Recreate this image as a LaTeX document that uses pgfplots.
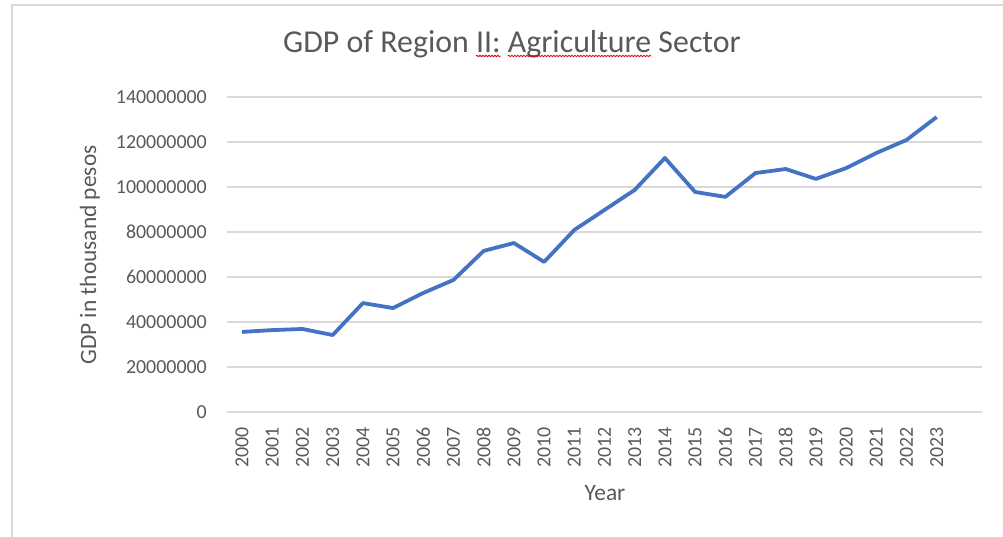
\documentclass[border=0pt]{standalone}
\usepackage{fontspec}
\setmainfont{Carlito}
\usepackage{pgfplots}
\pgfplotsset{compat=1.18}
\usetikzlibrary{decorations.pathmorphing}
\definecolor{txt}{HTML}{595959}
\definecolor{gridc}{HTML}{D9D9D9}
\definecolor{ser}{HTML}{4472C4}
\newsavebox\sqbox
\newcommand\squig[1]{\sbox\sqbox{#1}\rlap{\usebox\sqbox}\tikz[baseline=0pt]{\useasboundingbox (0,0) rectangle (\wd\sqbox,0.1pt);\draw[red!85!black,line width=0.8bp,decorate,decoration={snake,amplitude=0.7bp,segment length=3bp}] (0,-3bp) -- (\wd\sqbox,-3bp);}}
\begin{document}
\begin{tikzpicture}
\useasboundingbox (-227bp,-125bp) rectangle (776bp,412bp);
\draw[gridc,line width=2bp] (-215bp,-125bp) -- (-215bp,407bp) -- (776bp,407bp);
\begin{axis}[
  scale only axis, width=755bp, height=315bp,
  xmin=-0.5, xmax=24.5, ymin=0, ymax=140000000,
  scaled y ticks=false,
  axis line style={draw=none},
  major tick length=0pt,
  ytick={0,20000000,40000000,60000000,80000000,100000000,120000000,140000000},
  yticklabels={0,20000000,40000000,60000000,80000000,100000000,120000000,140000000},
  xtick={0,1,2,3,4,5,6,7,8,9,10,11,12,13,14,15,16,17,18,19,20,21,22,23},
  xticklabels={2000,2001,2002,2003,2004,2005,2006,2007,2008,2009,2010,2011,2012,2013,2014,2015,2016,2017,2018,2019,2020,2021,2022,2023},
  ymajorgrids, grid style={gridc,line width=1.3bp},
  xticklabel style={rotate=90,anchor=east,inner sep=0pt,font=\fontsize{20}{24}\selectfont,text=txt},
  yticklabel style={anchor=east,inner sep=0pt,font=\fontsize{20}{24}\selectfont,text=txt},
  xticklabel shift=15bp, yticklabel shift=20bp,
]
\addplot[ser,line width=3.8bp,line join=round] coordinates {
(0,35600000) (1,36400000) (2,36900000) (3,34200000) (4,48400000) (5,46200000)
(6,52900000) (7,58700000) (8,71600000) (9,75100000) (10,66700000) (11,80900000)
(12,89800000) (13,98700000) (14,112900000) (15,97800000) (16,95600000) (17,106200000)
(18,108000000) (19,103600000) (20,108400000) (21,115100000) (22,120900000) (23,131100000)};
\end{axis}
\node[anchor=base,font=\fontsize{32}{38}\selectfont,text=txt] at (285bp,359bp) {GDP of Region \squig{II:} \squig{Agriculture} Sector};
\node[rotate=90,font=\fontsize{23.5}{28}\selectfont,text=txt] at (-137bp,157bp) {GDP in thousand pesos};
\node[font=\fontsize{23.5}{28}\selectfont,text=txt] at (378bp,-81bp) {Year};
\end{tikzpicture}
\end{document}
